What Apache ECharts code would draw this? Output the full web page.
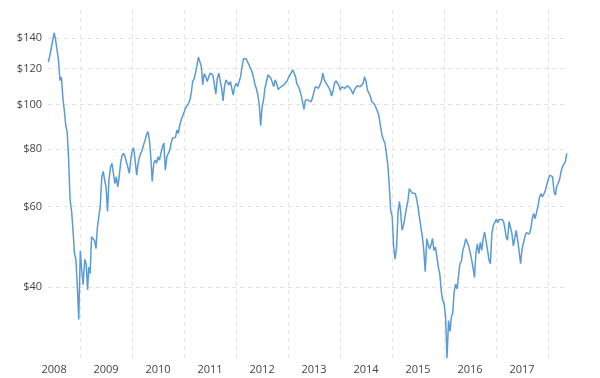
<!DOCTYPE html>
<html>
<head>
<meta charset="utf-8">
<script src="https://cdn.jsdelivr.net/npm/echarts@6/dist/echarts.min.js"></script>
<style>
  html, body { margin: 0; padding: 0; background: #fff; }
  #chart { width: 600px; height: 378px; }
</style>
</head>
<body>
<div id="chart"></div>
<script>
// prices sampled on the 1st, 11th and 21st of each month
const sampleDays = [1, 11, 21];
const p2008 = [124, 128, 133, 132, 143.5, 139, 132, 125, 113, 115, 103, 97, 90, 87, 76, 62, 58.5, 53, 47.3, 46, 40, 34]; // from May 21
const p2009 = [48, 43.5, 40.5, 46, 45, 39.4, 44.2, 42.8, 51.5, 51.5, 50.5, 48.5, 54, 57, 60, 69.6, 71.5, 68.5, 66, 58.5, 68.5, 73, 74.5, 71, 67.3, 69.6, 66.2, 69.6, 74.5, 77.5, 78.3, 77, 77.5, 73, 70.8, 75.7];
const p2010 = [79.5, 80.5, 75.7, 70.2, 74.5, 77, 78.3, 79.5, 81.7, 83.7, 86, 87.4, 84, 77, 68, 74.5, 75.7, 74.5, 77, 75.7, 78.3, 81, 82.5, 72, 77, 78.3, 79.5, 82.5, 84.5, 84.5, 85, 88, 86.6, 90.5, 92.6, 94.5];
const p2011 = [96.5, 98.5, 99.5, 100.7, 102.8, 107, 112.4, 113.7, 117.2, 122.2, 127, 126.4, 121.2, 110.5, 117, 115.2, 112.4, 111.4, 117.2, 118.2, 116.2, 110.5, 105.5, 114, 117.2, 112.4, 108.6, 102, 109.5, 113.3, 113, 110.5, 112.4, 108.6, 105, 109.5];
const p2012 = [111.4, 109.5, 110.5, 115.2, 121.2, 126, 127, 126, 124, 122, 120, 118.2, 115, 111, 108.6, 105, 100, 90, 99, 102.4, 108.6, 112.4, 116.2, 116.5, 114.3, 115.2, 109.5, 113.3, 111.4, 108, 108.6, 109.5, 108.6, 110.5, 111.4, 112.4];
const p2013 = [114.3, 115.2, 117.2, 119.2, 118.2, 115.2, 111.4, 110, 108, 105, 101.5, 97.7, 102.4, 101.5, 102.4, 102.8, 101.5, 103.8, 107, 109.5, 110.5, 108.6, 110.5, 112.4, 117.2, 113.3, 111.8, 110.5, 109.5, 107.7, 104.5, 107, 111.4, 112.8, 113.3, 110.5];
const p2014 = [107.7, 109.5, 110.5, 108.6, 109.5, 110, 110.5, 108.6, 107.3, 105.5, 108, 109, 110, 110.5, 109.5, 109.5, 111.4, 115.2, 112.4, 107.7, 106, 104.2, 101.5, 100.7, 100, 98.2, 96.5, 94, 89.6, 85.9, 83.7, 82.5, 78.3, 74, 67, 58.9];
const p2015 = [57, 49, 46, 48.9, 58.4, 61.5, 58.4, 53.2, 54.5, 56.9, 59.5, 61.5, 65.6, 66.2, 64.2, 64.5, 64, 62.4, 60, 56.9, 54.1, 51.5, 48.1, 43.2, 51, 49.4, 48.4, 49.4, 51.1, 48.1, 48.9, 46.5, 44.2, 42.8, 39.4, 37.4];
const p2016 = [36.8, 34.5, 28, 33.8, 32, 34.5, 35, 39, 40.6, 39.6, 42.4, 45, 45.5, 48.1, 49.2, 51, 50.6, 49.2, 47.7, 46.1, 44.2, 42, 47.3, 49.7, 47.3, 50.1, 48.1, 51, 52.8, 52.3, 48.1, 45.8, 45, 52.3, 54.5, 55.3];
const p2017 = [56.2, 55.3, 56.2, 56.4, 56.2, 55.6, 54.1, 51.5, 50.6, 55.6, 56, 52.3, 49.2, 51, 53.2, 50.6, 47.7, 45, 48.4, 49.9, 51.5, 52.6, 52.9, 52.2, 53.6, 56.4, 57.9, 56.4, 56.9, 60, 62.9, 64, 62.9, 63.8, 64.9, 66.7];
const p2018 = [68.5, 70.2, 70.8, 69.6, 64.6, 63.5, 66.2, 67.3, 68.5, 71.4, 73.2, 73.2, 75, 78.3];

const yearLabels = ['2008', '2009', '2010', '2011', '2012', '2013', '2014', '2015', '2016', '2017'];
const priceTicks = [40, 60, 80, 100, 120, 140];

// x is a plain millisecond value, so ticks can be put exactly on Jan 1 / Jul 1
function ms(y, m, d) {
  return Date.UTC(y, m - 1, d);
}

// turn one year's samples into [time, price] pairs; first = index of the first sample in the year
function yearPoints(year, first, values) {
  return values.map((v, i) => {
    const k = first + i;
    return [ms(year, Math.floor(k / 3) + 1, sampleDays[k % 3]), v];
  });
}

const data = [].concat(
  yearPoints(2008, 14, p2008),
  yearPoints(2009, 0, p2009),
  yearPoints(2010, 0, p2010),
  yearPoints(2011, 0, p2011),
  yearPoints(2012, 0, p2012),
  yearPoints(2013, 0, p2013),
  yearPoints(2014, 0, p2014),
  yearPoints(2015, 0, p2015),
  yearPoints(2016, 0, p2016),
  yearPoints(2017, 0, p2017),
  yearPoints(2018, 0, p2018)
);

const yearStarts = yearLabels.map(y => ms(+y + 1, 1, 1));
const midYears = yearLabels.map(y => ms(+y, 7, 1));

const gridLine = { show: true, lineStyle: { color: '#e3e3e3', type: [4, 4], width: 1 } };

const chart = echarts.init(document.getElementById('chart'));
chart.setOption({
  animation: false,
  grid: { left: 48, right: 33, top: 10, bottom: 20 },
  xAxis: {
    type: 'value',
    min: ms(2008, 5, 19),
    max: ms(2018, 5, 13),
    axisLine: { show: false },
    axisTick: { show: false, customValues: yearStarts },
    splitLine: gridLine,
    axisLabel: {
      customValues: midYears,
      formatter: (v) => String(new Date(v).getUTCFullYear()),
      color: '#444',
      fontSize: 11,
      fontFamily: 'Open Sans',
      margin: 6,
      showMinLabel: true,
      showMaxLabel: true
    }
  },
  yAxis: {
    type: 'log',
    min: 28,
    max: 161,
    axisLine: { show: false },
    axisTick: { show: false, customValues: priceTicks },
    splitLine: gridLine,
    axisLabel: {
      customValues: priceTicks,
      formatter: (v) => '$' + Math.round(v),
      color: '#444',
      fontSize: 11,
      fontFamily: 'Open Sans',
      margin: 6
    }
  },
  series: [{
    type: 'line',
    data: data,
    showSymbol: false,
    lineStyle: { color: '#5b9bd5', width: 1.5 },
    itemStyle: { color: '#5b9bd5' }
  }]
});
</script>
</body>
</html>
